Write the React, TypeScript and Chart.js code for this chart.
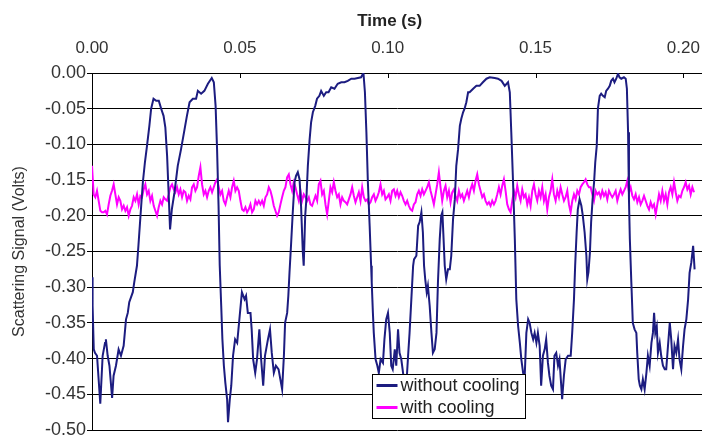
import React, { useEffect, useRef } from 'react';
import { Chart, registerables } from 'chart.js';

Chart.register(...registerables);

// ---------- data ----------
const X_TITLE = 'Time (s)';
const Y_TITLE = 'Scattering Signal (Volts)';
const SERIES_LABELS = ['without cooling', 'with cooling'];
const X_TICKS = [0, 0.05, 0.1, 0.15, 0.2];
const Y_TICKS = [0, -0.05, -0.1, -0.15, -0.2, -0.25, -0.3, -0.35, -0.4, -0.45, -0.5];
const X_MIN = 0;
const X_MAX = 0.2063;
const Y_MIN = -0.5;
const Y_MAX = 0;

// "without cooling" (time in s, signal in V)
const NAVY_TIME = [
  0.0000, 0.0002, 0.0006, 0.0010, 0.0017, 0.0028, 0.0036, 0.0044, 0.0047, 0.0053,
  0.0059, 0.0068, 0.0073, 0.0081, 0.0090, 0.0098, 0.0107, 0.0115, 0.0121, 0.0126,
  0.0138, 0.0143, 0.0152, 0.0157, 0.0164, 0.0172, 0.0179, 0.0186, 0.0194, 0.0200,
  0.0208, 0.0217, 0.0226, 0.0234, 0.0242, 0.0248, 0.0254, 0.0260, 0.0264, 0.0270,
  0.0279, 0.0290, 0.0301, 0.0313, 0.0321, 0.0330, 0.0341, 0.0352, 0.0358, 0.0369,
  0.0380, 0.0392, 0.0405, 0.0412, 0.0418, 0.0423, 0.0428, 0.0432, 0.0437, 0.0441,
  0.0446, 0.0451, 0.0457, 0.0460, 0.0466, 0.0471, 0.0477, 0.0484, 0.0491,
  0.0493, 0.0507, 0.0516, 0.0521, 0.0527, 0.0536, 0.0540, 0.0545, 0.0552, 0.0558,
  0.0566, 0.0572, 0.0579, 0.0585, 0.0595, 0.0602, 0.0608, 0.0615, 0.0622, 0.0631,
  0.0637, 0.0643, 0.0649, 0.0653, 0.0660, 0.0664, 0.0668, 0.0673, 0.0679, 0.0685,
  0.0690, 0.0696, 0.0702, 0.0707, 0.0713, 0.0716, 0.0721, 0.0725, 0.0730, 0.0736,
  0.0741, 0.0747, 0.0755, 0.0761, 0.0769, 0.0775, 0.0784, 0.0792, 0.0800, 0.0809,
  0.0820, 0.0831, 0.0843, 0.0854, 0.0865, 0.0877, 0.0888, 0.0899, 0.0910, 0.0918,
  0.0923, 0.0928, 0.0933, 0.0939, 0.0944, 0.0946, 0.0950, 0.0953, 0.0959, 0.0965,
  0.0970, 0.0976, 0.0984, 0.0989, 0.0995,
  0.1001, 0.1007, 0.1012, 0.1017, 0.1024, 0.1029, 0.1035, 0.1040, 0.1046, 0.1052,
  0.1057, 0.1063, 0.1069, 0.1074, 0.1080, 0.1086, 0.1089, 0.1097, 0.1103, 0.1108,
  0.1114, 0.1119, 0.1123, 0.1127, 0.1132, 0.1136, 0.1142, 0.1148, 0.1153, 0.1159,
  0.1165, 0.1170, 0.1176, 0.1181, 0.1185, 0.1188, 0.1193, 0.1198, 0.1204, 0.1210,
  0.1215, 0.1221, 0.1227, 0.1232, 0.1238, 0.1244, 0.1249, 0.1255, 0.1260, 0.1266,
  0.1272, 0.1277, 0.1289, 0.1300, 0.1311, 0.1322, 0.1334, 0.1345, 0.1362, 0.1373,
  0.1385, 0.1396, 0.1407, 0.1413, 0.1418, 0.1424, 0.1430, 0.1435, 0.1441, 0.1447,
  0.1452, 0.1458, 0.1463, 0.1469, 0.1475, 0.1480, 0.1486, 0.1492, 0.1497, 0.1503,
  0.1508, 0.1514, 0.1519, 0.1525, 0.1531, 0.1536, 0.1542, 0.1547, 0.1553, 0.1559,
  0.1564, 0.1570, 0.1576, 0.1581, 0.1587, 0.1590, 0.1596, 0.1602, 0.1610, 0.1619,
  0.1624, 0.1630, 0.1634, 0.1639, 0.1643, 0.1649, 0.1655, 0.1660, 0.1666, 0.1672,
  0.1675, 0.1679, 0.1684, 0.1688, 0.1693, 0.1698, 0.1702, 0.1707, 0.1711, 0.1717,
  0.1722, 0.1728, 0.1734, 0.1739, 0.1745, 0.1751, 0.1756, 0.1762, 0.1767, 0.1773,
  0.1779, 0.1784, 0.1790, 0.1799, 0.1805, 0.1809, 0.1813, 0.1816, 0.1819, 0.1824,
  0.1829, 0.1835, 0.1841, 0.1844, 0.1849, 0.1853, 0.1858, 0.1863, 0.1869, 0.1875,
  0.1880, 0.1886, 0.1892, 0.1897, 0.1901, 0.1905, 0.1910, 0.1914, 0.1920, 0.1925,
  0.1931, 0.1937, 0.1942, 0.1948, 0.1954, 0.1959, 0.1965, 0.1970, 0.1976, 0.1982,
  0.1987, 0.1993, 0.1999, 0.2004, 0.2010, 0.2016, 0.2021, 0.2027, 0.2033, 0.2038,
];

const NAVY_VALUE = [
  -0.286, -0.326, -0.387, -0.392, -0.396, -0.463, -0.396, -0.378, -0.373, -0.396,
  -0.410, -0.455, -0.424, -0.410, -0.387, -0.396, -0.382, -0.345, -0.336, -0.321,
  -0.307, -0.293, -0.270, -0.242, -0.200, -0.153, -0.125, -0.102, -0.074, -0.050,
  -0.036, -0.039, -0.039, -0.050, -0.060, -0.076, -0.116, -0.177, -0.219, -0.191,
  -0.167, -0.130, -0.107, -0.079, -0.060, -0.041, -0.036, -0.036, -0.025, -0.029,
  -0.025, -0.015, -0.007, -0.013, -0.046, -0.107, -0.186, -0.270, -0.326, -0.373,
  -0.410, -0.434, -0.457, -0.489, -0.457, -0.438, -0.396, -0.373, -0.378,
  -0.378, -0.307, -0.317, -0.312, -0.336, -0.336, -0.359, -0.401, -0.420, -0.401,
  -0.359, -0.401, -0.438, -0.396, -0.373, -0.359, -0.392, -0.420, -0.410, -0.415,
  -0.429, -0.443, -0.396, -0.350, -0.336, -0.312, -0.279, -0.242, -0.195, -0.153,
  -0.144, -0.139, -0.149, -0.186, -0.251, -0.270, -0.200, -0.177, -0.130, -0.093,
  -0.069, -0.055, -0.046, -0.036, -0.032, -0.025, -0.032, -0.027, -0.027, -0.020,
  -0.022, -0.015, -0.013, -0.013, -0.011, -0.008, -0.008, -0.007, -0.006, 0.000,
  -0.027, -0.083, -0.153, -0.214, -0.270, -0.293, -0.336, -0.364, -0.401, -0.410,
  -0.420, -0.401, -0.406, -0.373, -0.345,
  -0.336, -0.364, -0.410, -0.415, -0.387, -0.410, -0.359, -0.392, -0.401, -0.420,
  -0.438, -0.438, -0.396, -0.364, -0.317, -0.270, -0.261, -0.256, -0.214, -0.209,
  -0.195, -0.223, -0.270, -0.289, -0.307, -0.298, -0.326, -0.364, -0.392, -0.387,
  -0.364, -0.293, -0.233, -0.200, -0.195, -0.223, -0.270, -0.289, -0.275, -0.275,
  -0.256, -0.205, -0.177, -0.130, -0.107, -0.074, -0.064, -0.055, -0.050, -0.041,
  -0.027, -0.027, -0.022, -0.018, -0.018, -0.013, -0.008, -0.006, -0.007, -0.008,
  -0.011, -0.018, -0.013, -0.027, -0.083, -0.153, -0.233, -0.317, -0.354, -0.378,
  -0.401, -0.420, -0.429, -0.364, -0.345, -0.350, -0.364, -0.373, -0.364, -0.378,
  -0.364, -0.382, -0.438, -0.396, -0.387, -0.373, -0.406, -0.424, -0.438, -0.443,
  -0.396, -0.392, -0.410, -0.401, -0.438, -0.457, -0.424, -0.401, -0.396, -0.396,
  -0.364, -0.317, -0.270, -0.223, -0.191, -0.177, -0.186, -0.200, -0.223, -0.256,
  -0.289, -0.279, -0.251, -0.209, -0.177, -0.153, -0.125, -0.102, -0.050, -0.032,
  -0.029, -0.032, -0.034, -0.025, -0.022, -0.018, -0.011, -0.008, -0.013, -0.008,
  -0.001, -0.006, -0.008, -0.006, -0.008, -0.022, -0.083, -0.177, -0.233, -0.293,
  -0.350, -0.359, -0.364, -0.392, -0.429, -0.438, -0.443, -0.429, -0.443, -0.420,
  -0.396, -0.410, -0.378, -0.364, -0.336, -0.364, -0.355, -0.392, -0.378, -0.396,
  -0.410, -0.415, -0.415, -0.382, -0.350, -0.373, -0.415, -0.382, -0.392, -0.373,
  -0.401, -0.415, -0.382, -0.359, -0.345, -0.317, -0.280, -0.265, -0.242, -0.275,
];

// "with cooling": sampled at a constant interval
const MAGENTA_START = 0;
const MAGENTA_DT = 0.000564;
const MAGENTA_VALUE = [
  -0.130, -0.170, -0.174, -0.165, -0.179, -0.193, -0.195, -0.195, -0.193, -0.198,
  -0.184, -0.172, -0.165, -0.156, -0.170, -0.184, -0.174, -0.179, -0.191, -0.186,
  -0.193, -0.188, -0.200, -0.191, -0.186, -0.174, -0.179, -0.170, -0.184, -0.172,
  -0.174, -0.163, -0.156, -0.170, -0.165, -0.179, -0.172, -0.186, -0.193, -0.200,
  -0.188, -0.179, -0.184, -0.174, -0.177, -0.179, -0.170, -0.160, -0.156, -0.163,
  -0.167, -0.160, -0.170, -0.163, -0.174, -0.165, -0.167, -0.179, -0.172, -0.177,
  -0.160, -0.156, -0.165, -0.160, -0.144, -0.132, -0.156, -0.170, -0.165, -0.174,
  -0.165, -0.160, -0.167, -0.160, -0.153, -0.149, -0.160, -0.170, -0.165, -0.179,
  -0.184, -0.174, -0.165, -0.174, -0.160, -0.151, -0.165, -0.160,
  -0.165, -0.179, -0.191, -0.193, -0.188, -0.195, -0.191, -0.184, -0.195, -0.191,
  -0.179, -0.184, -0.179, -0.184, -0.179, -0.186, -0.174, -0.170, -0.160, -0.165,
  -0.174, -0.186, -0.193, -0.200, -0.195, -0.184, -0.174, -0.165, -0.160, -0.146,
  -0.142, -0.156, -0.165, -0.153, -0.160, -0.170, -0.179, -0.165, -0.179, -0.170,
  -0.174, -0.179, -0.174, -0.184, -0.186, -0.179, -0.172, -0.179, -0.156, -0.151,
  -0.170, -0.165, -0.184, -0.198, -0.179, -0.160, -0.167, -0.153, -0.165, -0.174,
  -0.170, -0.184, -0.174, -0.179, -0.181, -0.184, -0.177, -0.170, -0.160, -0.172,
  -0.181, -0.174, -0.167, -0.179, -0.160, -0.174, -0.179, -0.177, -0.184, -0.181,
  -0.174, -0.170, -0.179, -0.174, -0.167, -0.156, -0.170, -0.165, -0.177, -0.174,
  -0.170, -0.179, -0.165, -0.163, -0.172, -0.165, -0.174, -0.167, -0.172, -0.179,
  -0.184, -0.179, -0.186, -0.191, -0.193, -0.184, -0.181, -0.170, -0.165, -0.172,
  -0.163, -0.170, -0.165, -0.160, -0.153, -0.165, -0.174, -0.184, -0.170, -0.156,
  -0.139, -0.160, -0.179, -0.165, -0.158, -0.174, -0.165, -0.181, -0.167, -0.163,
  -0.172, -0.179, -0.165, -0.174, -0.170, -0.179, -0.172, -0.165, -0.174, -0.163,
  -0.156, -0.165, -0.151, -0.142, -0.156, -0.165, -0.174, -0.170, -0.179, -0.184,
  -0.181, -0.186, -0.179, -0.184, -0.179, -0.170, -0.160, -0.170, -0.158, -0.149,
  -0.165, -0.184, -0.191, -0.195, -0.179, -0.165, -0.174, -0.158, -0.170, -0.179,
  -0.163, -0.174, -0.170, -0.184, -0.174, -0.186, -0.165, -0.156, -0.170, -0.179,
  -0.165, -0.174, -0.160, -0.179, -0.170, -0.191, -0.174, -0.165, -0.149, -0.170,
  -0.179, -0.165, -0.174, -0.160, -0.170, -0.179, -0.174, -0.165, -0.184, -0.195,
  -0.179, -0.170, -0.177, -0.165, -0.170, -0.160, -0.156, -0.153, -0.149, -0.156,
  -0.160, -0.160, -0.170, -0.179, -0.165, -0.170, -0.167, -0.174, -0.165, -0.172,
  -0.167, -0.177, -0.165, -0.170, -0.174, -0.170, -0.165, -0.179, -0.170, -0.163,
  -0.170, -0.165, -0.160, -0.151, -0.167, -0.160, -0.172, -0.177, -0.170, -0.181,
  -0.174, -0.184, -0.179, -0.172, -0.179, -0.186, -0.191, -0.181, -0.188, -0.184,
  -0.198, -0.184, -0.170, -0.179, -0.165, -0.179, -0.170, -0.184, -0.167, -0.160,
  -0.170, -0.153, -0.167, -0.179, -0.172, -0.174, -0.165, -0.160, -0.153, -0.163,
  -0.158, -0.170, -0.160, -0.167,
];

// ---------- styling ----------
const FONT = '"Liberation Sans", Arial, sans-serif';
const NAVY = '#1c1c80';
const MAGENTA = '#ff00ff';
const TEXT = '#333333';

const decorations = {
  id: 'decorations',
  afterDraw(chart: any) {
    const { ctx, chartArea, scales } = chart;
    const xs = scales.x;
    ctx.save();
    // inside tick marks on the top axis
    ctx.strokeStyle = '#000';
    ctx.lineWidth = 1;
    X_TICKS.forEach((v) => {
      const px = Math.round(xs.getPixelForValue(v)) + 0.5;
      ctx.beginPath();
      ctx.moveTo(px, chartArea.top);
      ctx.lineTo(px, chartArea.top + 5);
      ctx.stroke();
    });
    // x axis title
    ctx.fillStyle = '#222';
    ctx.font = `bold 17px ${FONT}`;
    ctx.textAlign = 'center';
    ctx.textBaseline = 'middle';
    ctx.fillText(X_TITLE, xs.getPixelForValue(0.1) + 2, 21);
    // legend box
    const lx = 372.5, ly = 374.5, lw = 153, lh = 44;
    ctx.fillStyle = '#fff';
    ctx.fillRect(lx, ly, lw, lh);
    ctx.strokeStyle = '#000';
    ctx.lineWidth = 1;
    ctx.strokeRect(lx, ly, lw, lh);
    const colors = [NAVY, MAGENTA];
    ctx.font = `18px ${FONT}`;
    ctx.textAlign = 'left';
    SERIES_LABELS.forEach((lab, i) => {
      const cy = ly + 11 + i * 22;
      ctx.strokeStyle = colors[i];
      ctx.lineWidth = 3;
      ctx.beginPath();
      ctx.moveTo(lx + 4, cy);
      ctx.lineTo(lx + 25, cy);
      ctx.stroke();
      ctx.fillStyle = '#222';
      ctx.fillText(lab, lx + 28, cy + 1);
    });
    ctx.restore();
  },
};

export default function App() {
  const ref = useRef<HTMLCanvasElement | null>(null);

  useEffect(() => {
    document.body.style.margin = '0';
    const canvas = ref.current;
    if (!canvas) return;
    const navyData = NAVY_TIME.map((t, i) => ({ x: t, y: NAVY_VALUE[i] })).filter((p) => p.y !== undefined);
    const magentaData = MAGENTA_VALUE.map((v, i) => ({ x: MAGENTA_START + i * MAGENTA_DT, y: v }));

    const chart = new Chart(canvas, {
      type: 'line',
      data: {
        datasets: [
          {
            label: SERIES_LABELS[0],
            data: navyData,
            borderColor: NAVY,
            backgroundColor: NAVY,
            borderWidth: 2,
            pointRadius: 0,
            tension: 0,
          },
          {
            label: SERIES_LABELS[1],
            data: magentaData,
            borderColor: MAGENTA,
            backgroundColor: MAGENTA,
            borderWidth: 2,
            pointRadius: 0,
            tension: 0,
          },
        ],
      },
      options: {
        responsive: false,
        animation: false,
        parsing: false,
        layout: { padding: { left: 0, right: 0, top: 0, bottom: 5 } },
        plugins: {
          legend: { display: false },
          tooltip: { enabled: false },
          title: { display: false },
        },
        scales: {
          x: {
            type: 'linear',
            position: 'top',
            min: X_MIN,
            max: X_MAX,
            afterBuildTicks: (scale: any) => {
              scale.ticks = X_TICKS.map((v) => ({ value: v }));
            },
            afterFit: (scale: any) => {
              scale.height = 73;
              scale.paddingLeft = 0;
              scale.paddingRight = 0;
            },
            grid: { display: false, drawTicks: false },
            border: { display: true, color: '#000', width: 1 },
            ticks: {
              padding: 14,
              color: TEXT,
              font: { family: FONT, size: 17 },
              maxRotation: 0,
              autoSkip: false,
              callback: (v: any) => Number(v).toFixed(2),
            },
          },
          y: {
            type: 'linear',
            min: Y_MIN,
            max: Y_MAX,
            afterBuildTicks: (scale: any) => {
              scale.ticks = Y_TICKS.map((v) => ({ value: v }));
            },
            afterFit: (scale: any) => {
              scale.width = 92;
              scale.paddingTop = 0;
              scale.paddingBottom = 0;
            },
            grid: {
              display: true,
              color: '#000',
              lineWidth: 1,
              drawTicks: true,
              tickLength: 5,
              tickColor: '#000',
            },
            border: { display: true, color: '#000', width: 1 },
            title: {
              display: true,
              text: Y_TITLE,
              color: TEXT,
              font: { family: FONT, size: 16 },
              padding: { top: 10, bottom: 0 },
            },
            ticks: {
              padding: 1,
              color: TEXT,
              font: { family: FONT, size: 18 },
              autoSkip: false,
              callback: (v: any) => (Math.abs(Number(v)) < 1e-9 ? '0.00' : Number(v).toFixed(2)),
            },
          },
        },
      },
      plugins: [decorations],
    } as any);

    return () => chart.destroy();
  }, []);

  return (
    <div style={{ width: 702, height: 435 }}>
      <canvas ref={ref} width={702} height={435} style={{ display: 'block' }} />
    </div>
  );
}
